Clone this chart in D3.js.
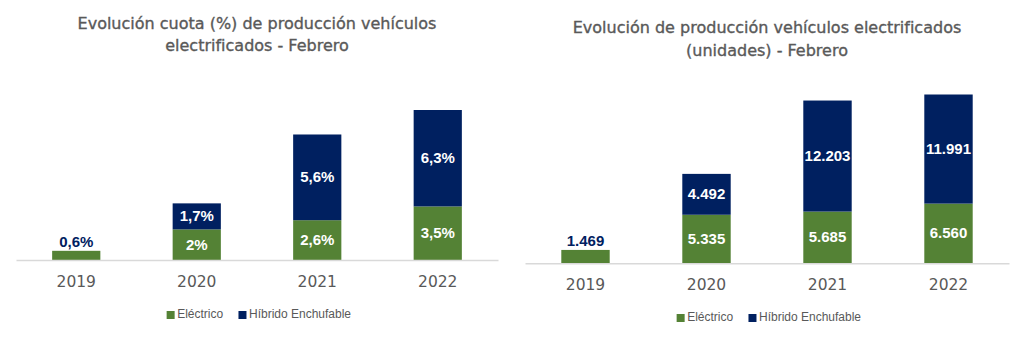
<!DOCTYPE html>
<html lang="es">
<head>
<meta charset="utf-8">
<script src="https://cdn.jsdelivr.net/npm/d3@7"></script>
<style>
  html, body { margin: 0; padding: 0; background: #ffffff; }
  svg { display: block; }
</style>
</head>
<body>
<svg id="chart" width="1024" height="340"></svg>
<script>
// Years on the x axis
const years = ["2019", "2020", "2021", "2022"];
// Series names (legend)
const seriesNames = ["Eléctrico", "Híbrido Enchufable"];
// Share of production (%) - February
const cuotaElectrico = [0.6, 2, 2.6, 3.5];
const cuotaHibrido = [0, 1.7, 5.6, 6.3];
// Produced units - February
const unidadesElectrico = [1469, 5335, 5685, 6560];
const unidadesHibrido = [0, 4492, 12203, 11991];
// Panel titles
const tituloCuota = ["Evolución cuota (%) de producción vehículos", "electrificados - Febrero"];
const tituloUnidades = ["Evolución de producción vehículos electrificados", "(unidades) - Febrero"];

const colors = ["#548235", "#002060"];
const textGray = "#595959";

const esLocale = d3.formatLocale({ decimal: ",", thousands: ".", grouping: [3], currency: ["", " €"] });
const fmtPct = v => esLocale.format(",.1~f")(v) + "%";
const fmtUnits = esLocale.format(",");

const svg = d3.select("#chart");

function drawPanel(cfg) {
  const g = svg.append("g");
  const rows = years.map((y, i) => ({ year: y, electrico: cfg.electrico[i], hibrido: cfg.hibrido[i] }));
  const stacked = d3.stack().keys(["electrico", "hibrido"])(rows);

  const x = d3.scaleBand().domain(years).range([cfg.x0, cfg.x1]).paddingInner(0.6).paddingOuter(0.3);
  const maxTotal = d3.max(rows, d => d.electrico + d.hibrido);
  const y = d3.scaleLinear().domain([0, maxTotal]).range([cfg.base, cfg.top]);

  // Title
  const cx = (cfg.x0 + cfg.x1) / 2;
  g.append("text")
    .attr("x", cx).attr("y", cfg.titleY)
    .attr("text-anchor", "middle")
    .attr("font-family", "DejaVu Sans")
    .attr("font-size", 16)
    .attr("fill", textGray)
    .attr("stroke", textGray)
    .attr("stroke-width", 0.35)
    .selectAll("tspan").data(cfg.title).join("tspan")
    .attr("x", cx).attr("dy", (d, i) => i === 0 ? 0 : 22.5)
    .text(d => d);

  // Stacked bars
  g.selectAll("g.serie").data(stacked).join("g")
    .attr("class", "serie")
    .attr("fill", (d, i) => colors[i])
    .selectAll("rect").data(d => d.filter(s => s[1] - s[0] > 0)).join("rect")
    .attr("x", d => x(d.data.year))
    .attr("width", x.bandwidth())
    .attr("y", d => y(d[1]))
    .attr("height", d => y(d[0]) - y(d[1]));

  // Axis
  const axis = g.append("g")
    .attr("transform", `translate(0,${cfg.base})`)
    .call(d3.axisBottom(x).tickSize(0).tickPadding(0).tickSizeOuter(0));
  axis.select(".domain").attr("stroke", "#d9d9d9").attr("stroke-width", 1.5);
  axis.selectAll(".tick text")
    .attr("font-family", "DejaVu Sans")
    .attr("font-size", 15.5)
    .attr("fill", textGray)
    .attr("dy", null)
    .attr("y", cfg.yearDy);

  // Value labels
  const labels = [];
  stacked.forEach((serie, si) => {
    serie.forEach(s => {
      const v = s[1] - s[0];
      if (v <= 0) return;
      const onlyOne = s.data.hibrido === 0;
      labels.push({
        year: s.data.year,
        text: cfg.fmt(v),
        y: onlyOne ? y(s[1]) - 4 : (y(s[0]) + y(s[1])) / 2 + 5,
        fill: onlyOne ? colors[1] : "#ffffff"
      });
    });
  });
  g.selectAll("text.lbl").data(labels).join("text")
    .attr("class", "lbl")
    .attr("x", d => x(d.year) + x.bandwidth() / 2)
    .attr("y", d => d.y)
    .attr("text-anchor", "middle")
    .attr("font-family", "Liberation Sans")
    .attr("font-weight", "bold")
    .attr("font-size", 15)
    .attr("fill", d => d.fill)
    .text(d => d.text);

  // Legend
  const leg = g.append("g");
  const items = leg.selectAll("g").data(seriesNames).join("g");
  items.append("rect").attr("width", 8).attr("height", 8).attr("y", -7)
    .attr("fill", (d, i) => colors[i]);
  items.append("text").attr("x", 10.5).attr("y", 0)
    .attr("font-family", "Liberation Sans")
    .attr("font-size", 12)
    .attr("fill", textGray)
    .text(d => d);
  let off = 0;
  items.each(function () {
    d3.select(this).attr("transform", `translate(${off},0)`);
    off += this.getBBox().width + 15;
  });
  const legW = off - 15;
  leg.attr("transform", `translate(${cx - legW / 2 + 2},${cfg.legendY})`);
}

drawPanel({
  x0: 16, x1: 498, base: 260, top: 110,
  electrico: cuotaElectrico, hibrido: cuotaHibrido,
  fmt: fmtPct, title: tituloCuota, titleY: 28.5, yearDy: 27, legendY: 318
});

drawPanel({
  x0: 525, x1: 1009, base: 263.3, top: 94.5,
  electrico: unidadesElectrico, hibrido: unidadesHibrido,
  fmt: fmtUnits, title: tituloUnidades, titleY: 33, yearDy: 27, legendY: 321
});
</script>
</body>
</html>
